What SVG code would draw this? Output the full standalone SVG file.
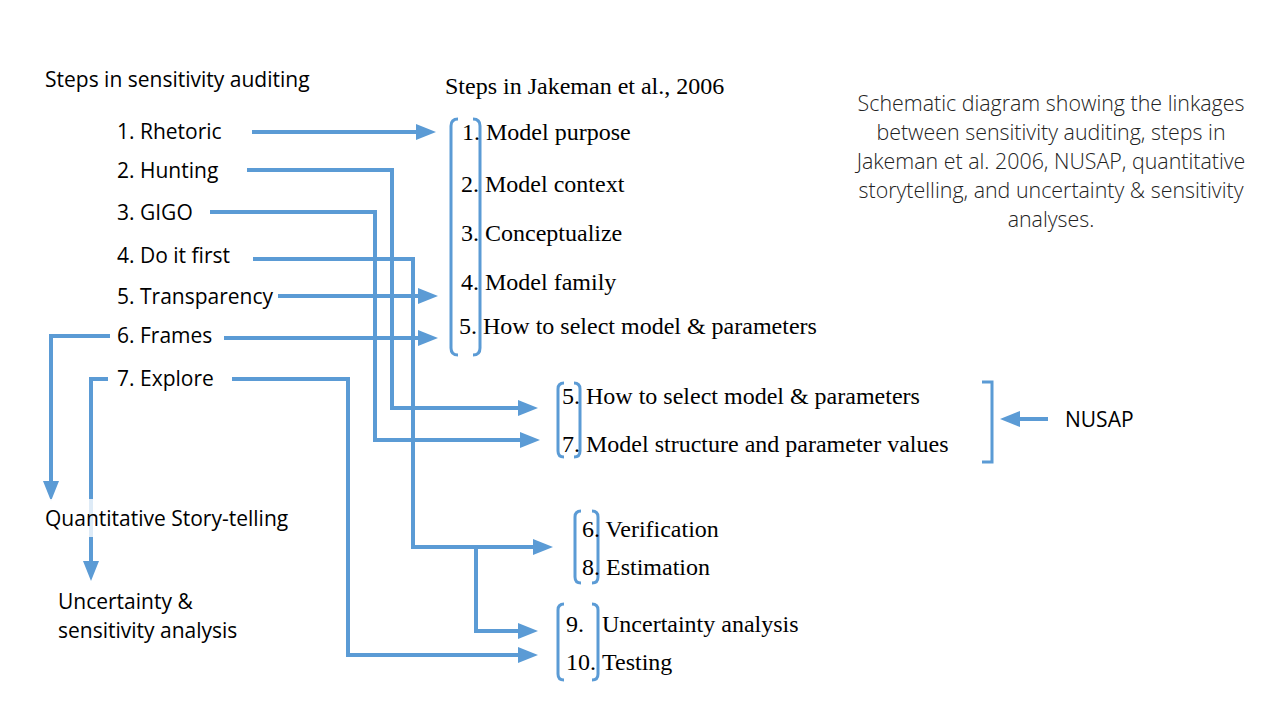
<svg xmlns="http://www.w3.org/2000/svg" width="1280" height="720" viewBox="0 0 1280 720">
<style>
.s{font-family:"Open Sans","Liberation Sans",sans-serif;font-size:21px;fill:#000}
.t{font-family:"Liberation Serif",serif;font-size:24px;fill:#000}
.n{font-family:"Open Sans","Liberation Sans",sans-serif;font-size:21.4px;fill:#222;font-weight:300}
.c{fill:none;stroke:#5B9BD5;stroke-width:4}
.b{fill:none;stroke:#5B9BD5;stroke-width:3}
</style>
<defs>
<marker id="ah" markerWidth="5" markerHeight="4" refX="0.5" refY="2" orient="auto" markerUnits="strokeWidth">
<path d="M0,0 L5,2 L0,4 Z" fill="#5B9BD5"/>
</marker>
</defs>
<rect width="1280" height="720" fill="#fff"/>
<g id="connectors">
<path class="c" d="M252,132 H418" marker-end="url(#ah)"/>
<path class="c" d="M247,170 H392 V408 H520" marker-end="url(#ah)"/>
<path class="c" d="M210,212 H375 V440 H522" marker-end="url(#ah)"/>
<path class="c" d="M253,259 H413 V547 H535" marker-end="url(#ah)"/>
<path class="c" d="M476,547 V631 H520" marker-end="url(#ah)"/>
<path class="c" d="M278,296 H420" marker-end="url(#ah)"/>
<path class="c" d="M224,338 H420" marker-end="url(#ah)"/>
<path class="c" d="M232,379 H348 V655 H520" marker-end="url(#ah)"/>
<path class="c" d="M110,336 H51 V483" marker-end="url(#ah)"/>
<path class="c" d="M108,379 H91 V563" marker-end="url(#ah)"/>
<path class="c" d="M1048,419 H1018" marker-end="url(#ah)"/>
</g>
<g id="brackets">
<path class="b" d="M458,119 Q451,119 451,126 V348 Q451,355 458,355"/>
<path class="b" d="M473,119 Q480,119 480,126 V348 Q480,355 473,355"/>
<path class="b" d="M564,383 Q558,383 558,389 V451 Q558,457 564,457"/>
<path class="b" d="M574,383 Q580,383 580,389 V451 Q580,457 574,457"/>
<path class="b" d="M581,511 Q575,511 575,517 V577 Q575,583 581,583"/>
<path class="b" d="M592,511 Q598,511 598,517 V577 Q598,583 592,583"/>
<path class="b" d="M564,604 Q558,604 558,610 V674 Q558,680 564,680"/>
<path class="b" d="M592,604 Q598,604 598,610 V674 Q598,680 592,680"/>
<path class="b" d="M982,382 H992 V462 H982"/>
</g>
<g id="auditing">
<text class="s" x="45" y="87">Steps in sensitivity auditing</text>
<text class="s" x="117" y="139">1. Rhetoric</text>
<text class="s" x="117" y="178">2. Hunting</text>
<text class="s" x="117" y="220">3. GIGO</text>
<text class="s" x="117" y="263">4. Do it first</text>
<text class="s" x="117" y="304">5. Transparency</text>
<text class="s" x="117" y="343">6. Frames</text>
<text class="s" x="117" y="386">7. Explore</text>
</g>
<g id="storytelling">
<rect x="44" y="499" width="250" height="38" fill="#fff" opacity="0.8"/>
<text class="s" x="45" y="526">Quantitative Story-telling</text>
</g>
<g id="uncertainty">
<text class="s" x="58" y="609">Uncertainty &amp;</text>
<text class="s" x="58" y="638">sensitivity analysis</text>
</g>
<g id="jakeman">
<text class="t" x="445" y="94">Steps in Jakeman et al., 2006</text>
<text class="t" x="462" y="140">1. Model purpose</text>
<text class="t" x="461" y="192">2. Model context</text>
<text class="t" x="461" y="241">3. Conceptualize</text>
<text class="t" x="461" y="290">4. Model family</text>
<text class="t" x="459" y="334">5. How to select model &amp; parameters</text>
</g>
<g id="group2">
<text class="t" x="562" y="404">5. How to select model &amp; parameters</text>
<text class="t" x="562" y="452">7. Model structure and parameter values</text>
</g>
<g id="group3">
<text class="t" x="582" y="537">6. Verification</text>
<text class="t" x="582" y="575">8. Estimation</text>
</g>
<g id="group4">
<text class="t" x="566" y="632">9.</text>
<text class="t" x="602" y="632">Uncertainty analysis</text>
<text class="t" x="566" y="670">10.</text>
<text class="t" x="602" y="670">Testing</text>
</g>
<g id="nusap">
<text class="s" x="1065" y="427">NUSAP</text>
</g>
<g id="caption" text-anchor="middle">
<text class="n" x="1051" y="111">Schematic diagram showing the linkages</text>
<text class="n" x="1051" y="140">between sensitivity auditing,  steps in</text>
<text class="n" x="1051" y="169">Jakeman et al. 2006, NUSAP, quantitative</text>
<text class="n" x="1051" y="198">storytelling, and uncertainty &amp; sensitivity</text>
<text class="n" x="1051" y="227">analyses.</text>
</g>
</svg>
